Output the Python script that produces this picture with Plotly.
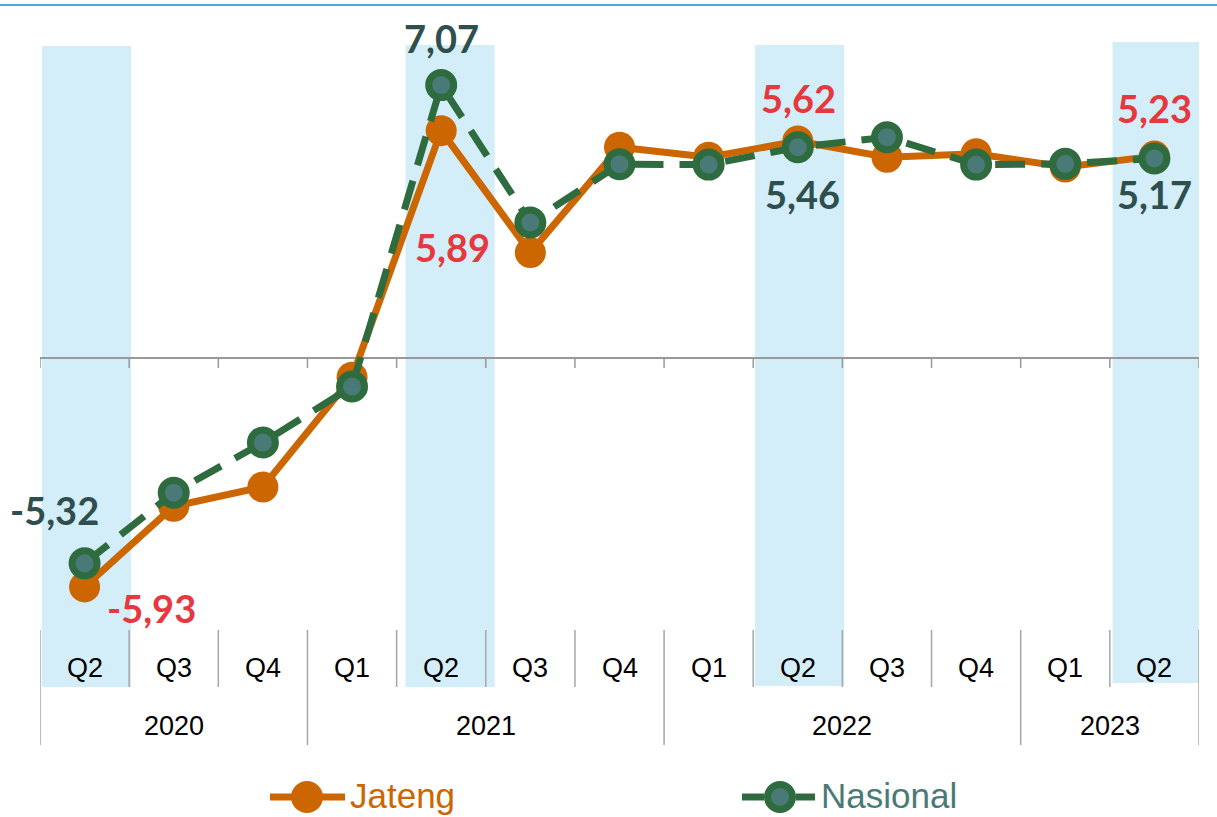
import plotly.graph_objects as go

# ---------------- data ----------------
quarters = ["Q2", "Q3", "Q4", "Q1", "Q2", "Q3", "Q4", "Q1", "Q2", "Q3", "Q4", "Q1", "Q2"]
years = ["2020", "2021", "2022", "2023"]
year_counts = [3, 4, 4, 2]
jateng = [-5.93, -3.84, -3.34, -0.50, 5.89, 2.73, 5.46, 5.20, 5.62, 5.20, 5.29, 4.95, 5.23]
nasional = [-5.32, -3.49, -2.19, -0.74, 7.07, 3.51, 5.02, 5.01, 5.46, 5.72, 5.01, 5.03, 5.17]
highlight = [0, 4, 8, 12]  # Q2 columns

# ---------------- styles ----------------
ORANGE = "#CC6600"
GREEN = "#2E6B3E"
TEAL = "#4A7A78"
RED_LBL = "#E5383F"
DARK_LBL = "#2E4F4E"
BAND = "#D3EEF8"
SEP = "#A6A6A6"
NARROW = "Liberation Sans Narrow, Arial Narrow, Liberation Sans, Arial, sans-serif"
LBLFONT = "Lato, Open Sans, sans-serif"

W, H = 1217, 817
L, R, T, B = 40, 18, 40, 187
PW, PH = W - L - R, H - T - B
PLOT_BOTTOM = H - B


def py(p):
    return (PLOT_BOTTOM - p) / PH


def px(p):
    return (p - L) / PW


idx = list(range(len(quarters)))

fig = go.Figure()
fig.add_trace(go.Scatter(
    x=idx, y=jateng, mode="lines+markers", name="Jateng",
    line=dict(color=ORANGE, width=7),
    marker=dict(size=31, color=ORANGE),
    showlegend=False, cliponaxis=False))
fig.add_trace(go.Scatter(
    x=idx, y=nasional, mode="lines+markers", name="Nasional",
    line=dict(color=GREEN, width=7, dash="30px,16px"),
    marker=dict(size=25, color=TEAL, line=dict(color=GREEN, width=7)),
    showlegend=False, cliponaxis=False))

shapes = []
# highlight bands
band_shift = {0: 0.02, 4: 0.1, 8: 0.02, 12: 0.03}
band_top = {0: 46, 4: 45, 8: 45, 12: 42}
band_bot = {0: 687, 4: 687, 8: 686, 12: 683}
for i in highlight:
    s = band_shift[i]
    shapes.append(dict(type="rect", xref="x", yref="paper", layer="below",
                       x0=i - 0.5 + s, x1=i + 0.5 + s,
                       y0=py(band_bot[i]), y1=py(band_top[i]),
                       fillcolor=BAND, line=dict(width=0)))
# tick marks on the zero line
for k in range(len(quarters) + 1):
    shapes.append(dict(type="line", xref="x", yref="y", ysizemode="pixel", yanchor=0,
                       x0=k - 0.5, x1=k - 0.5, y0=0, y1=-10,
                       line=dict(color="#999999", width=1.5)))
# category separators below the plot
year_bounds = [0]
for c in year_counts:
    year_bounds.append(year_bounds[-1] + c)
for k in range(len(quarters) + 1):
    bottom = 745 if k in year_bounds else 687
    shapes.append(dict(type="line", xref="x", yref="paper",
                       x0=k - 0.5, x1=k - 0.5, y0=py(630), y1=py(bottom),
                       line=dict(color=SEP, width=1.5)))
# top border line
shapes.append(dict(type="line", xref="paper", yref="paper",
                   x0=px(0), x1=px(W), y0=py(5), y1=py(5),
                   line=dict(color="#4BA9DC", width=2)))

# manual legend
LEG_Y = 797
shapes.append(dict(type="line", xref="paper", yref="paper",
                   x0=px(270), x1=px(345), y0=py(LEG_Y), y1=py(LEG_Y),
                   line=dict(color=ORANGE, width=7)))
shapes.append(dict(type="circle", xref="paper", yref="paper",
                   x0=px(307 - 16), x1=px(307 + 16), y0=py(LEG_Y + 16), y1=py(LEG_Y - 16),
                   fillcolor=ORANGE, line=dict(width=0)))
shapes.append(dict(type="line", xref="paper", yref="paper",
                   x0=px(742), x1=px(764), y0=py(LEG_Y), y1=py(LEG_Y),
                   line=dict(color=GREEN, width=7)))
shapes.append(dict(type="line", xref="paper", yref="paper",
                   x0=px(796), x1=px(815), y0=py(LEG_Y), y1=py(LEG_Y),
                   line=dict(color=GREEN, width=7)))
shapes.append(dict(type="circle", xref="paper", yref="paper",
                   x0=px(780 - 12.5), x1=px(780 + 12.5), y0=py(LEG_Y + 12.5), y1=py(LEG_Y - 12.5),
                   fillcolor=TEAL, line=dict(color=GREEN, width=7)))

annotations = []
# quarter labels
for i, q in enumerate(quarters):
    annotations.append(dict(x=i, y=py(668), xref="x", yref="paper", text=q, showarrow=False,
                            xanchor="center", yanchor="middle",
                            font=dict(family=NARROW, size=27, color="black")))
# year labels
for j, yr in enumerate(years):
    center = (year_bounds[j] + year_bounds[j + 1] - 1) / 2
    annotations.append(dict(x=center, y=py(726), xref="x", yref="paper", text=yr, showarrow=False,
                            xanchor="center", yanchor="middle",
                            font=dict(family=NARROW, size=27, color="black")))
# legend text
annotations.append(dict(x=px(348), y=py(795), xref="paper", yref="paper", text="Jateng",
                        showarrow=False, xanchor="left", yanchor="middle",
                        font=dict(family=NARROW, size=35, color=ORANGE)))
annotations.append(dict(x=px(819), y=py(795), xref="paper", yref="paper", text="Nasional",
                        showarrow=False, xanchor="left", yanchor="middle",
                        font=dict(family=NARROW, size=35, color=TEAL)))


def fmt(v):
    return f"{v:.2f}".replace(".", ",")


# data labels (offsets in pixels)
jat_off = {0: (67, -21), 4: (11, -116), 8: (1, 43), 12: (0, 48)}
nas_off = {0: (-30, 53), 4: (0, 47), 8: (5, -47), 12: (0, -36)}
for i, (dx, dy) in jat_off.items():
    annotations.append(dict(x=i, y=jateng[i], xref="x", yref="y", text=fmt(jateng[i]),
                            showarrow=False, xshift=dx, yshift=dy,
                            font=dict(family=LBLFONT, size=38, color=RED_LBL, weight="bold")))
for i, (dx, dy) in nas_off.items():
    annotations.append(dict(x=i, y=nasional[i], xref="x", yref="y", text=fmt(nasional[i]),
                            showarrow=False, xshift=dx, yshift=dy,
                            font=dict(family=LBLFONT, size=38, color=DARK_LBL, weight="bold")))

y_top = (358 - T) / 38.6
y_bot = -(PLOT_BOTTOM - 358) / 38.6

fig.update_layout(
    width=W, height=H,
    margin=dict(l=L, r=R, t=T, b=B),
    paper_bgcolor="white", plot_bgcolor="rgba(0,0,0,0)",
    xaxis=dict(range=[-0.5, len(quarters) - 0.5], showgrid=False, zeroline=False,
               showticklabels=False, showline=False, ticks=""),
    yaxis=dict(range=[y_bot, y_top], showgrid=False, zeroline=True, zerolinecolor="#999999",
               zerolinewidth=1.5, showticklabels=False, showline=False, ticks=""),
    shapes=shapes, annotations=annotations, showlegend=False,
)

fig.write_html("out.html", config={"displayModeBar": False},
               post_script="document.body.style.margin='0';")
